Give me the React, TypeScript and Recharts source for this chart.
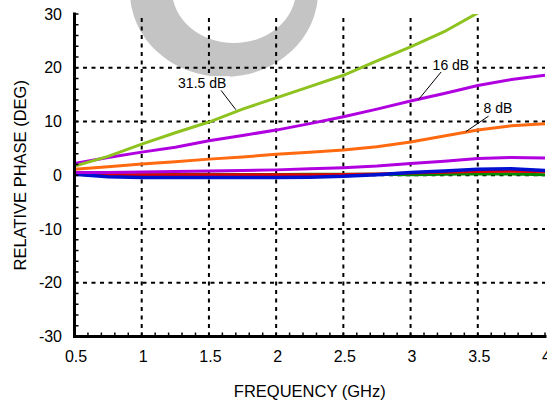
import { LineChart, Line, XAxis, YAxis, ReferenceLine, ReferenceDot } from 'recharts'

// frequency points (GHz)
const freq = [0.5, 0.75, 1, 1.25, 1.5, 1.75, 2, 2.25, 2.5, 2.75, 3, 3.25, 3.5, 3.75, 4]

// relative phase (deg) per attenuation state
const att31_5 = [1.7, 3.5, 5.8, 7.9, 9.9, 12.3, 14.4, 16.5, 18.6, 21.3, 23.9, 26.7, 30.2, null, null]
const att16 = [2.2, 3.3, 4.3, 5.2, 6.4, 7.4, 8.4, 9.6, 10.9, 12.3, 13.8, 15.2, 16.7, 17.8, 18.6]
const att8 = [1.1, 1.6, 2.1, 2.5, 3.0, 3.4, 3.9, 4.3, 4.7, 5.3, 6.2, 7.3, 8.4, 9.2, 9.6]
const att4 = [0.5, 0.5, 0.6, 0.7, 0.8, 0.9, 1.0, 1.2, 1.4, 1.7, 2.2, 2.6, 3.1, 3.3, 3.2]
const att2 = [0.3, 0.1, 0.1, 0.1, 0.1, 0.1, 0.1, 0.1, 0.15, 0.25, 0.4, 0.55, 0.7, 0.75, 0.65]
const att1 = [0.2, -0.3, -0.4, -0.4, -0.4, -0.4, -0.4, -0.35, -0.2, 0.1, 0.5, 0.8, 1.1, 1.2, 0.9]
const att05 = [0.3, 0.1, 0.1, 0.15, 0.2, 0.15, 0.15, 0.2, 0.2, 0.2, 0.1, 0.2, 0.3, 0.25, 0.1]

const xMajor = [0.5, 1, 1.5, 2, 2.5, 3, 3.5, 4]
const yMajor = [-30, -20, -10, 0, 10, 20, 30]
const xMinor = Array.from({ length: 36 }, (_, i) => Math.round((0.5 + i * 0.1) * 10) / 10)
const yMinor = Array.from({ length: 31 }, (_, i) => -30 + i * 2)

// callout labels: text position and leader line, in data units
const callouts = [
  { text: '31.5 dB', tx: 1.45, ty: 16.2, x1: 1.59, y1: 15.8, x2: 1.7, y2: 12.2 },
  { text: '16 dB', tx: 3.3, ty: 19.6, x1: 3.23, y1: 19.3, x2: 3.06, y2: 14.1 },
  { text: '8 dB', tx: 3.65, ty: 11.6, x1: 3.58, y1: 11.0, x2: 3.41, y2: 8.1 },
]

const data = freq.map((f, i) => ({
  f,
  a31: att31_5[i],
  a16: att16[i],
  a8: att8[i],
  a4: att4[i],
  a2: att2[i],
  a1: att1[i],
  a05: att05[i],
}))

const FONT = '"Liberation Sans", Arial, Helvetica, sans-serif'
const frame = { stroke: '#000', strokeWidth: 3, strokeLinecap: 'square' as const }
const isMajor = (v: number, list: number[]) => list.some((m) => Math.abs(m - v) < 1e-6)

const BottomTick = (p: any) => {
  const v = p.payload.value
  return (
    <g>
      <line x1={p.x} y1={p.y} x2={p.x} y2={p.y - 4} stroke="#000" strokeWidth={1.5} />
      {isMajor(v, xMajor) && (
        <text x={p.x + 1.5} y={p.y + 25.5} textAnchor="middle" fontSize={16} fontFamily={FONT} fill="#000">
          {String(v)}
        </text>
      )}
    </g>
  )
}

const TopTick = (p: any) => (
  <line x1={p.x} y1={p.y} x2={p.x} y2={p.y + 4} stroke="#000" strokeWidth={1.5} />
)

const LeftTick = (p: any) => {
  const v = p.payload.value
  return (
    <g>
      <line x1={p.x} y1={p.y} x2={p.x + 4} y2={p.y} stroke="#000" strokeWidth={1.5} />
      {isMajor(v, yMajor) && (
        <text x={p.x - 12.5} y={p.y} dy="0.35em" textAnchor="end" fontSize={16} fontFamily={FONT} fill="#000">
          {String(v)}
        </text>
      )}
    </g>
  )
}

const RightTick = (p: any) => (
  <line x1={p.x} y1={p.y} x2={p.x - 4} y2={p.y} stroke="#000" strokeWidth={1.5} />
)

const XTitle = (p: any) => {
  const vb = p.viewBox
  return (
    <text x={vb.x + vb.width / 2} y={397} textAnchor="middle" fontSize={16.5} fontFamily={FONT} fill="#000">
      FREQUENCY (GHz)
    </text>
  )
}

const YTitle = (p: any) => {
  const vb = p.viewBox
  const cx = 20.5
  const cy = vb.y + vb.height / 2
  return (
    <text
      x={cx}
      y={cy}
      dy="0.35em"
      transform={`rotate(-90 ${cx} ${cy})`}
      textAnchor="middle"
      fontSize={16.5}
      fontFamily={FONT}
      fill="#000"
    >
      RELATIVE PHASE (DEG)
    </text>
  )
}

const Callout = (p: any) => {
  const w = p.text.length * 7.3 + 4
  return (
    <g>
      <rect x={p.cx - w / 2} y={p.cy - 12} width={w} height={14} fill="#fff" />
      <text x={p.cx} y={p.cy} textAnchor="middle" fontSize={14} fontFamily={FONT} fill="#000">
        {p.text}
      </text>
    </g>
  )
}

const ring =
  'M 130 -8 a 94 85 0 1 0 188 0 a 94 85 0 1 0 -188 0 Z ' +
  'M 172 -10 a 62 53 0 1 0 124 0 a 62 53 0 1 0 -124 0 Z'

export default function App() {
  return (
    <div style={{ position: 'relative', width: 547, height: 400 }}>
      <style>{'body{margin:0}'}</style>
      <svg width={547} height={400} style={{ position: 'absolute', left: 0, top: 0 }}>
        <path d={ring} fill="#c4c4c4" fillRule="evenodd" />
      </svg>
      <div style={{ position: 'absolute', left: 0, top: 0 }}>
        <LineChart width={547} height={400} data={data} margin={{ top: 14, right: 2, bottom: 0, left: 0 }}>
          <XAxis
            dataKey="f"
            type="number"
            domain={[0.5, 4]}
            allowDataOverflow
            ticks={xMinor}
            interval={0}
            tickSize={0}
            tickMargin={0}
            tickLine={false}
            axisLine={frame}
            tick={(p: any) => <BottomTick {...p} />}
            height={63.5}
            label={<XTitle />}
          />
          <XAxis
            xAxisId="top"
            orientation="top"
            dataKey="f"
            type="number"
            domain={[0.5, 4]}
            allowDataOverflow
            ticks={xMinor}
            interval={0}
            tickSize={0}
            tickMargin={0}
            tickLine={false}
            axisLine={frame}
            tick={(p: any) => <TopTick {...p} />}
            height={0}
          />
          <YAxis
            type="number"
            domain={[-30, 30]}
            allowDataOverflow
            ticks={yMinor}
            interval={0}
            tickSize={0}
            tickMargin={0}
            tickLine={false}
            axisLine={frame}
            tick={(p: any) => <LeftTick {...p} />}
            width={74.5}
            label={<YTitle />}
          />
          <YAxis
            yAxisId="right"
            orientation="right"
            type="number"
            domain={[-30, 30]}
            allowDataOverflow
            ticks={yMinor}
            interval={0}
            tickSize={0}
            tickMargin={0}
            tickLine={false}
            axisLine={frame}
            tick={(p: any) => <RightTick {...p} />}
            width={0}
          />

          {xMajor.slice(1, -1).map((x) => (
            <ReferenceLine key={'gx' + x} x={x} stroke="#000" strokeWidth={2} strokeDasharray="4 4.5" />
          ))}
          {yMajor.slice(1, -1).map((y) => (
            <ReferenceLine key={'gy' + y} y={y} stroke="#000" strokeWidth={2} strokeDasharray="4 4.5" />
          ))}

          <Line dataKey="a05" stroke="#008a00" strokeWidth={3} dot={false} isAnimationActive={false} />
          <Line dataKey="a2" stroke="#e00000" strokeWidth={3} dot={false} isAnimationActive={false} />
          <Line dataKey="a1" stroke="#0010d0" strokeWidth={3.5} dot={false} isAnimationActive={false} />
          <Line dataKey="a4" stroke="#b000e0" strokeWidth={3} dot={false} isAnimationActive={false} />
          <Line dataKey="a8" stroke="#ff6a10" strokeWidth={3} dot={false} isAnimationActive={false} />
          <Line dataKey="a16" stroke="#b000e0" strokeWidth={3} dot={false} isAnimationActive={false} />
          <Line dataKey="a31" stroke="#8dc21f" strokeWidth={3} dot={false} isAnimationActive={false} />

          {callouts.map((c) => (
            <ReferenceLine
              key={'l' + c.text}
              segment={[
                { x: c.x1, y: c.y1 },
                { x: c.x2, y: c.y2 },
              ]}
              stroke="#000"
              strokeWidth={1}
            />
          ))}
          {callouts.map((c) => (
            <ReferenceDot
              key={'t' + c.text}
              x={c.tx}
              y={c.ty}
              r={0}
              shape={(p: any) => <Callout cx={p.cx} cy={p.cy} text={c.text} />}
            />
          ))}
        </LineChart>
      </div>
    </div>
  )
}
